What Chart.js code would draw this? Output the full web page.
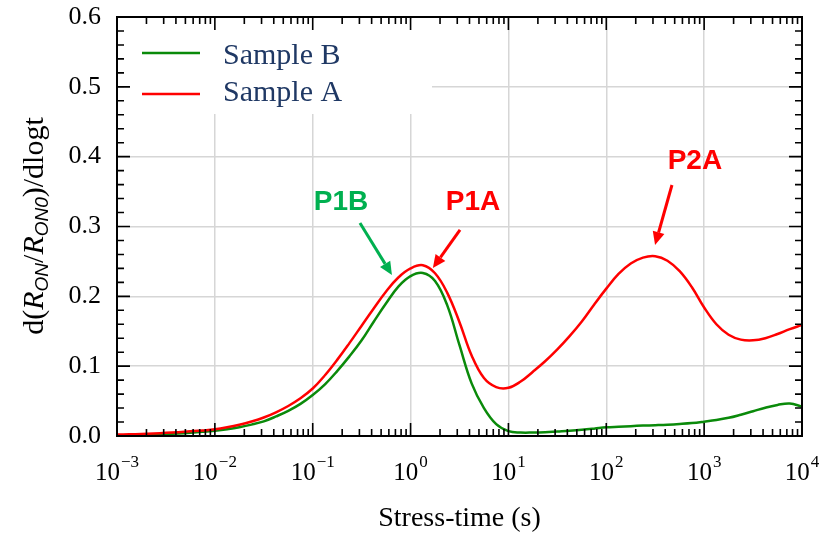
<!DOCTYPE html>
<html><head><meta charset="utf-8">
<script src="https://cdn.jsdelivr.net/npm/chart.js@4/dist/chart.umd.min.js"></script>
<style>html,body{margin:0;padding:0;background:#fff;overflow:hidden}</style>
</head><body>
<canvas id="c" width="822" height="537"></canvas>
<script>
// ---- data (1/8-decade steps) ----
const stressTime = [0.001, 0.001334, 0.001778, 0.002371, 0.003162, 0.004217, 0.005623, 0.007499,
                    0.01, 0.01334, 0.01778, 0.02371, 0.03162, 0.04217, 0.05623, 0.07499,
                    0.1, 0.1334, 0.1778, 0.2371, 0.3162, 0.4217, 0.5623, 0.7499,
                    1, 1.334, 1.778, 2.371, 3.162, 4.217, 5.623, 7.499,
                    10, 13.34, 17.78, 23.71, 31.62, 42.17, 56.23, 74.99,
                    100, 133.4, 177.8, 237.1, 316.2, 421.7, 562.3, 749.9,
                    1000, 1334, 1778, 2371, 3162, 4217, 5623, 7499,
                    10000];
const sampleA = [0.002, 0.0024, 0.0029, 0.0036, 0.0045, 0.0055, 0.0067, 0.0080,
                 0.0096, 0.0124, 0.016, 0.0207, 0.0265, 0.034, 0.043, 0.054,
                 0.068, 0.087, 0.109, 0.133, 0.158, 0.183, 0.207, 0.227,
                 0.240, 0.2445, 0.233, 0.205, 0.163, 0.115, 0.083, 0.070,
                 0.069, 0.078, 0.092, 0.107, 0.124, 0.143, 0.164, 0.188,
                 0.211, 0.232, 0.247, 0.2555, 0.2575, 0.251, 0.236, 0.213,
                 0.184, 0.160, 0.145, 0.138, 0.137, 0.140, 0.146, 0.153,
                 0.159];
const sampleB = [0.001, 0.0012, 0.0015, 0.002, 0.0026, 0.0034, 0.0045, 0.0059,
                 0.0076, 0.0098, 0.0126, 0.0163, 0.021, 0.028, 0.036, 0.046,
                 0.0587, 0.074, 0.093, 0.114, 0.137, 0.164, 0.190, 0.214,
                 0.229, 0.2335, 0.222, 0.187, 0.130, 0.075, 0.040, 0.017,
                 0.007, 0.005, 0.005, 0.0055, 0.0065, 0.0075, 0.0088, 0.0105,
                 0.0124, 0.0133, 0.0141, 0.0149, 0.0155, 0.0162, 0.0172, 0.0185,
                 0.0205, 0.0228, 0.026, 0.0305, 0.0355, 0.0405, 0.0445, 0.0465,
                 0.042];

const seriesNames = ['Sample B', 'Sample A'];
const xTickValues = [1e-3, 1e-2, 1e-1, 1e0, 1e1, 1e2, 1e3, 1e4];
const xTickBase = '10';
const xTickExponents = ['\u22123', '\u22122', '\u22121', '0', '1', '2', '3', '4'];
const xMinorFactors = [2, 3, 4, 5, 6, 7, 8, 9];
const yTickValues = [0, 0.1, 0.2, 0.3, 0.4, 0.5, 0.6];
const yMinorValues = [0.02, 0.04, 0.06, 0.08, 0.12, 0.14, 0.16, 0.18, 0.22, 0.24, 0.26, 0.28, 0.32, 0.34, 0.36, 0.38, 0.42, 0.44, 0.46, 0.48, 0.52, 0.54, 0.56, 0.58];
const xTitle = 'Stress-time (s)';

// annotations: label position and arrow (start -> tip) in data coordinates
const annLabels = ['P1B', 'P1A', 'P2A'];
const annLabelX = [0.195, 4.35, 805];
const annLabelY = [0.324, 0.324, 0.3824];
const annFromX  = [0.304, 3.2, 469];
const annFromY  = [0.305, 0.295, 0.3594];
const annToX    = [0.645, 1.69, 315];
const annToY    = [0.2306, 0.2406, 0.2735];
const annColors = ['#00b050', '#ff0000', '#ff0000'];

const RED = '#ff0000', GREEN = '#0a8a0a';
const SERIF = '"Liberation Serif", "Times New Roman", serif';
const SANS = '"Liberation Sans", Arial, sans-serif';

const toPts = (xs, ys) => xs.map((x, i) => ({x: x, y: ys[i]}));

const decor = {
  id: 'decor',
  beforeDatasetsDraw(chart) {
    const ctx = chart.ctx;
    ctx.save();
    ctx.fillStyle = '#ffffff';
    ctx.fillRect(124, 19, 308, 95);
    ctx.restore();
  },
  afterDatasetsDraw(chart) {
    const ctx = chart.ctx, a = chart.chartArea;
    const xs = chart.scales.x, ys = chart.scales.y;
    ctx.save();
    ctx.strokeStyle = '#000'; ctx.lineWidth = 2;
    ctx.strokeRect(a.left, a.top, a.right - a.left, a.bottom - a.top);
    ctx.lineWidth = 1.6;
    const vt = (px, len) => {
      ctx.beginPath();
      ctx.moveTo(px, a.bottom); ctx.lineTo(px, a.bottom - len);
      ctx.moveTo(px, a.top); ctx.lineTo(px, a.top + len);
      ctx.stroke();
    };
    const ht = (py, len) => {
      ctx.beginPath();
      ctx.moveTo(a.left, py); ctx.lineTo(a.left + len, py);
      ctx.moveTo(a.right, py); ctx.lineTo(a.right - len, py);
      ctx.stroke();
    };
    xTickValues.forEach((v, i) => {
      vt(xs.getPixelForValue(v), 13);
      if (i < xTickValues.length - 1) xMinorFactors.forEach(f => vt(xs.getPixelForValue(v * f), 7));
    });
    yTickValues.forEach(v => ht(ys.getPixelForValue(v), 13));
    yMinorValues.forEach(v => ht(ys.getPixelForValue(v), 7));

    ctx.fillStyle = '#000';
    ctx.textBaseline = 'alphabetic';
    ctx.textAlign = 'left';
    xTickValues.forEach((v, i) => {
      const px = xs.getPixelForValue(v);
      ctx.font = '25px ' + SERIF;
      const wb = ctx.measureText(xTickBase).width;
      ctx.font = '17px ' + SERIF;
      const we = ctx.measureText(xTickExponents[i]).width;
      const x0 = px - (wb + 1 + we) / 2;
      ctx.font = '25px ' + SERIF;
      ctx.fillText(xTickBase, x0, 480);
      ctx.font = '17px ' + SERIF;
      ctx.fillText(xTickExponents[i], x0 + wb + 1, 467);
    });

    ctx.font = '28px ' + SERIF;
    ctx.textAlign = 'center';
    ctx.fillText(xTitle, (a.left + a.right) / 2, 526);

    const segs = [
      ['d(', '30px ' + SERIF, 0],
      ['R', 'italic 30px ' + SERIF, 0],
      ['ON', 'italic 19px ' + SANS, 5],
      ['/', '30px ' + SERIF, 0],
      ['R', 'italic 30px ' + SERIF, 0],
      ['ON0', 'italic 19px ' + SANS, 5],
      [')/dlogt', '30px ' + SERIF, 0]
    ];
    ctx.save();
    ctx.translate(43, 226);
    ctx.rotate(-Math.PI / 2);
    ctx.textAlign = 'left';
    let tw = 0;
    segs.forEach(s => { ctx.font = s[1]; tw += ctx.measureText(s[0]).width; });
    let cx = -tw / 2;
    segs.forEach(s => { ctx.font = s[1]; ctx.fillText(s[0], cx, s[2]); cx += ctx.measureText(s[0]).width; });
    ctx.restore();

    const legY = [53, 94], legBase = [64, 101], legCol = [GREEN, RED];
    seriesNames.forEach((n, i) => {
      ctx.strokeStyle = legCol[i]; ctx.lineWidth = 2.5;
      ctx.beginPath(); ctx.moveTo(142, legY[i]); ctx.lineTo(200, legY[i]); ctx.stroke();
      ctx.fillStyle = '#1f3864';
      ctx.font = '30px ' + SERIF;
      ctx.textAlign = 'left';
      ctx.fillText(n, 223, legBase[i]);
    });

    annLabels.forEach((t, i) => {
      ctx.fillStyle = annColors[i]; ctx.strokeStyle = annColors[i];
      ctx.font = 'bold 28px ' + SANS;
      ctx.textAlign = 'center';
      ctx.fillText(t, xs.getPixelForValue(annLabelX[i]), ys.getPixelForValue(annLabelY[i]));
      const x1 = xs.getPixelForValue(annFromX[i]), y1 = ys.getPixelForValue(annFromY[i]);
      const x2 = xs.getPixelForValue(annToX[i]), y2 = ys.getPixelForValue(annToY[i]);
      const ang = Math.atan2(y2 - y1, x2 - x1);
      const hl = 13, hw = 6;
      const bx = x2 - hl * Math.cos(ang), by = y2 - hl * Math.sin(ang);
      ctx.lineWidth = 3;
      ctx.beginPath(); ctx.moveTo(x1, y1); ctx.lineTo(bx, by); ctx.stroke();
      ctx.beginPath();
      ctx.moveTo(x2, y2);
      ctx.lineTo(bx + hw * Math.sin(ang), by - hw * Math.cos(ang));
      ctx.lineTo(bx - hw * Math.sin(ang), by + hw * Math.cos(ang));
      ctx.closePath(); ctx.fill();
    });
    ctx.restore();
  }
};

new Chart(document.getElementById('c'), {
  type: 'line',
  data: {
    datasets: [
      { label: seriesNames[1], data: toPts(stressTime, sampleA), borderColor: RED, borderWidth: 2.5, pointRadius: 0, tension: 0.4, fill: false },
      { label: seriesNames[0], data: toPts(stressTime, sampleB), borderColor: GREEN, borderWidth: 2.5, pointRadius: 0, tension: 0.4, fill: false }
    ]
  },
  options: {
    responsive: false,
    devicePixelRatio: 1,
    animation: false,
    layout: { padding: { top: 17, right: 20, left: 0, bottom: 0 } },
    plugins: { legend: { display: false }, tooltip: { enabled: false } },
    scales: {
      x: {
        type: 'logarithmic', min: 1e-3, max: 1e4, position: 'bottom',
        afterBuildTicks: s => { s.ticks = xTickValues.map(v => ({ value: v })); },
        afterFit: s => { s.height = 101; s.paddingLeft = 0; s.paddingRight = 0; },
        ticks: { display: false },
        grid: { color: '#d6d6d6', lineWidth: 1.5, drawTicks: false },
        border: { display: false }
      },
      y: {
        type: 'linear', min: 0, max: 0.6,
        afterBuildTicks: s => { s.ticks = yTickValues.map(v => ({ value: v })); },
        afterFit: s => { s.width = 117; s.paddingTop = 0; s.paddingBottom = 0; },
        ticks: { padding: 16, color: '#000', font: { family: SERIF, size: 26 }, callback: v => v.toFixed(1) },
        grid: { color: '#d6d6d6', lineWidth: 1.5, drawTicks: false },
        border: { display: false }
      }
    }
  },
  plugins: [decor]
});
</script>
</body></html>
